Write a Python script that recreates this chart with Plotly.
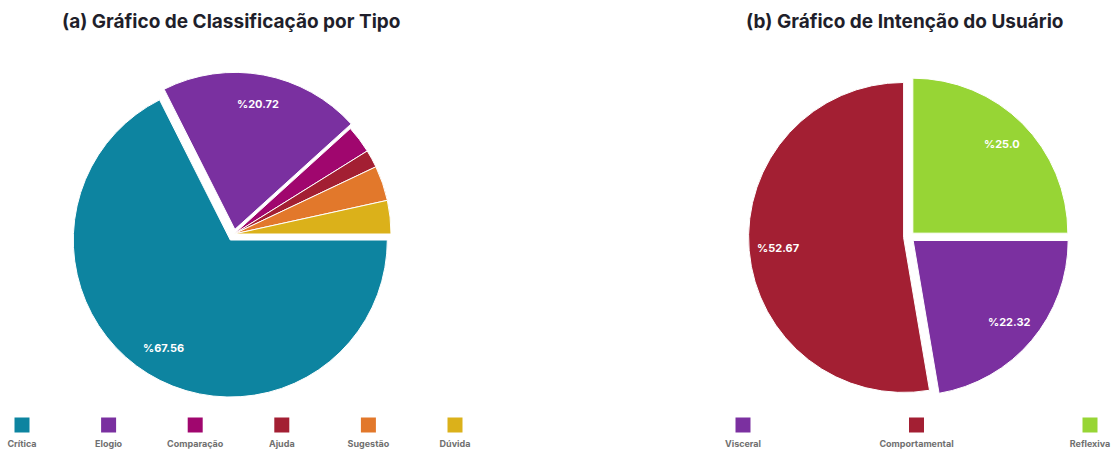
import math
import plotly.graph_objects as go

W, H = 1115, 450

# ---- data -------------------------------------------------------------
tipo_labels = ["Crítica", "Elogio", "Comparação", "Ajuda", "Sugestão", "Dúvida"]
tipo_values = [67.56, 20.72, 2.85, 1.83, 3.60, 3.44]
tipo_colors = ["#0d84a0", "#7a30a0", "#a0066e", "#a31f33", "#e2782b", "#dbb11a"]
tipo_pull = [0.045, 0.03, 0, 0, 0, 0]
tipo_show = [True, True, False, False, False, False]

intencao_labels = ["Reflexiva", "Visceral", "Comportamental"]
intencao_values = [25.0, 22.32, 52.67]
intencao_colors = ["#97d535", "#7b30a0", "#a31f33"]
intencao_pull = [0.035, 0.035, 0.035]
intencao_show = [True, True, True]

# legend order (left to right) for each panel
legend_a = ["Crítica", "Elogio", "Comparação", "Ajuda", "Sugestão", "Dúvida"]
legend_b = ["Visceral", "Comportamental", "Reflexiva"]

# ---- layout geometry (pixels) ----------------------------------------
pies = [
    dict(labels=tipo_labels, values=tipo_values, colors=tipo_colors,
         pull=tipo_pull, show=tipo_show, cx=234, cy=234, r=157, rotation=90,
         title="(a) Gráfico de Classificação por Tipo", tx=231),
    dict(labels=intencao_labels, values=intencao_values, colors=intencao_colors,
         pull=intencao_pull, show=intencao_show, cx=909, cy=237, r=155, rotation=0,
         title="(b) Gráfico de Intenção do Usuário", tx=905),
]

FONT = "Inter"
fig = go.Figure()
annotations = []

for p in pies:
    maxpull = max(p["pull"])
    half = p["r"] * (1 + maxpull)
    dom_x = [(p["cx"] - half) / W, (p["cx"] + half) / W]
    dom_y = [1 - (p["cy"] + half) / H, 1 - (p["cy"] - half) / H]
    fig.add_trace(go.Pie(
        labels=p["labels"], values=p["values"], sort=False,
        direction="clockwise", rotation=p["rotation"], pull=p["pull"],
        marker=dict(colors=p["colors"], line=dict(color="white", width=1)),
        textinfo="none", hoverinfo="label+percent", showlegend=False,
        domain=dict(x=dom_x, y=dom_y),
    ))
    # percentage labels placed along each slice's mid-angle
    total = sum(p["values"])
    start = p["rotation"]
    for v, pl, show in zip(p["values"], p["pull"], p["show"]):
        sweep = 360 * v / total
        mid = math.radians(start + sweep / 2)
        start += sweep
        if not show:
            continue
        rho = p["r"] * (0.81 + pl)
        px = p["cx"] + rho * math.sin(mid)
        py = p["cy"] - rho * math.cos(mid)
        annotations.append(dict(
            x=px / W, y=1 - py / H, xref="paper", yref="paper",
            xanchor="center", yanchor="middle",
            text="<b>%" + str(v) + "</b>", showarrow=False,
            font=dict(family=FONT, size=11, color="white"),
        ))
    annotations.append(dict(
        x=p["tx"] / W, y=1 - 22 / H, xref="paper", yref="paper",
        xanchor="center", yanchor="middle",
        text="<b>" + p["title"] + "</b>", showarrow=False,
        font=dict(family=FONT, size=19, color="#1f1f2b"),
    ))

# ---- custom legends: square swatch above label -----------------------
color_of = dict(zip(tipo_labels, tipo_colors))
color_of.update(dict(zip(intencao_labels, intencao_colors)))

def legend_row(names, x0, step):
    xs = [x0 + i * step for i in range(len(names))]
    fig.add_trace(go.Scatter(
        x=xs, y=[425] * len(names), mode="markers",
        marker=dict(symbol="square", size=15, color=[color_of[n] for n in names]),
        hoverinfo="skip", showlegend=False, xaxis="x", yaxis="y",
    ))
    fig.add_trace(go.Scatter(
        x=xs, y=[445] * len(names), mode="text", text=["<b>" + n + "</b>" for n in names],
        textfont=dict(family=FONT, size=9, color="#707070"),
        hoverinfo="skip", showlegend=False, xaxis="x", yaxis="y",
    ))

legend_row(legend_a, 22, 86.6)
legend_row(legend_b, 743, 173.5)

fig.update_layout(
    width=W, height=H, margin=dict(l=0, r=0, t=0, b=0),
    paper_bgcolor="white", plot_bgcolor="rgba(0,0,0,0)",
    xaxis=dict(range=[0, W], domain=[0, 1], visible=False, fixedrange=True),
    yaxis=dict(range=[H, 0], domain=[0, 1], visible=False, fixedrange=True),
    annotations=annotations,
)

fig.write_html("out.html")
